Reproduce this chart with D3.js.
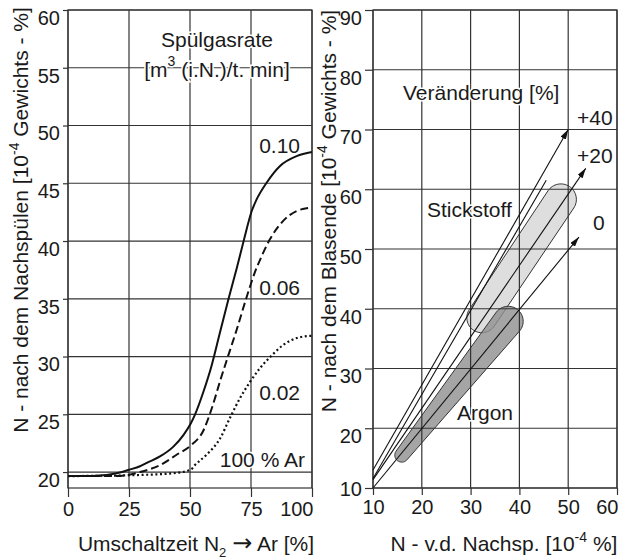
<!DOCTYPE html>
<html>
<head>
<meta charset="utf-8">
<script src="https://cdn.jsdelivr.net/npm/d3@7"></script>
<style>
  body { margin: 0; background: #fff; }
  text { font-family: "Liberation Sans", Arial, sans-serif; fill: #1a1a1a; }
</style>
</head>
<body>
<div id="content"></div>
<script>
var Width = 628;
var Height = 559;

// linkes Diagramm: Stickstoff nach dem Nachspülen
var leftXTicks = [0, 25, 50, 75, 100];
var leftYTicks = [20, 25, 30, 35, 40, 45, 50, 55, 60];
var rate010 = [[0, 19.65], [10, 19.65], [20, 19.9], [25, 20.2], [29.5, 20.5], [32.3, 20.8], [37.7, 21.35],
  [43.2, 22.2], [47.3, 23.2], [50.3, 24.2], [52, 24.95], [55.5, 26.95], [58.9, 29.25], [62.3, 32.1],
  [65.8, 35], [69.1, 37.6], [72.1, 40.1], [75.3, 42.6], [77.3, 43.6], [81.4, 45.05], [86.9, 46.5],
  [93.7, 47.35], [100, 47.7]];
var rate006 = [[0, 19.65], [20, 19.65], [29.5, 20.0], [37.7, 20.6], [44.5, 21.5], [50.3, 22.3],
  [55.5, 23.6], [58.9, 25.5], [62.5, 28.0], [65.7, 30.1], [69.1, 32.3], [73, 35], [76.6, 37.3],
  [79.4, 38.7], [82.8, 40.17], [88.2, 41.75], [93.7, 42.6], [100, 42.9]];
var rate002 = [[0, 19.65], [29.5, 19.75], [43.2, 19.9], [50.3, 20.2], [52, 20.6], [56.8, 21.5],
  [62.3, 22.9], [66.4, 24.7], [70.5, 26.4], [74.6, 27.8], [78.7, 29.0], [83.5, 30.1], [88.2, 31.0],
  [93.7, 31.6], [100, 31.8]];
var rateNames = ["0.10", "0.06", "0.02"];

// rechtes Diagramm: Stickstoff nach dem Blasende
var rightXTicks = [10, 20, 30, 40, 50, 60];
var rightYTicks = [10, 20, 30, 40, 50, 60, 70, 80, 90];
var changeNames = ["+40", "+20", "0"];
var changeStart = [[10, 13], [10, 11.4], [10, 10]];
var changeEnd = [[50, 70], [53.6, 63.5], [52.2, 52]];
var extraLine = [[10, 11.6], [45.5, 61.5]];
var stickstoffBand = [[32.3, 38.5], [48.5, 58.3]];
var argonBand = [[15.9, 15.5], [37.7, 37.9]];

var svg = d3
  .select("#content")
  .append("svg")
  .attr("width", Width)
  .attr("height", Height);

var defs = svg.append("defs");
defs.append("marker")
  .attr("id", "arrow")
  .attr("viewBox", "0 0 10 6")
  .attr("refX", 10)
  .attr("refY", 3)
  .attr("markerWidth", 10)
  .attr("markerHeight", 6)
  .attr("markerUnits", "userSpaceOnUse")
  .attr("orient", "auto")
  .append("path")
  .attr("d", "M0,0 L10,3 L0,6 Z")
  .attr("fill", "#111");

var lx = d3.scaleLinear().domain([0, 100]).range([68, 312]);
var ly = d3.scaleLinear().domain([18.62, 60]).range([488, 10]);
var rx = d3.scaleLinear().domain([10, 60]).range([373, 617]);
var ry = d3.scaleLinear().domain([10, 90]).range([488, 10]);

var gridColor = "#333";

function drawAxes(xs, ys, xt, yt, xTick, yTick) {
  var x0 = xs.range()[0], x1 = xs.range()[1];
  var y0 = ys.range()[0], y1 = ys.range()[1];
  // Gitter
  svg.append("g").selectAll("line").data(xt).enter().append("line")
    .attr("x1", d => xs(d)).attr("x2", d => xs(d))
    .attr("y1", y1).attr("y2", y0)
    .attr("stroke", gridColor).attr("stroke-width", 1.2);
  svg.append("g").selectAll("line").data(yt).enter().append("line")
    .attr("x1", x0).attr("x2", x1)
    .attr("y1", d => ys(d)).attr("y2", d => ys(d))
    .attr("stroke", gridColor).attr("stroke-width", 1.2);
  svg.append("rect")
    .attr("x", x0).attr("y", y1)
    .attr("width", x1 - x0).attr("height", y0 - y1)
    .attr("fill", "none").attr("stroke", gridColor).attr("stroke-width", 1.2);

  var xAxis = d3.axisBottom(xs).tickValues(xt).tickSize(xTick).tickPadding(5);
  var gx = svg.append("g").attr("transform", "translate(0," + y0 + ")").call(xAxis);
  var yAxis = d3.axisLeft(ys).tickValues(yt).tickSize(yTick).tickPadding(3);
  var gy = svg.append("g").attr("transform", "translate(" + x0 + ",0)").call(yAxis);
  [gx, gy].forEach(function (g) {
    g.select(".domain").remove();
    g.attr("font-size", 20).attr("font-family", null);
    g.selectAll("line").attr("stroke", gridColor).attr("stroke-width", 1.2);
    g.selectAll("text").attr("fill", "#111");
  });
  gy.selectAll("text").attr("dy", "0.72em");
  // letzte Beschriftung rechtsbündig am Rand
  var last = xt[xt.length - 1];
  gx.selectAll("text").filter(d => d === last).attr("text-anchor", "end").attr("x", 1);
  return gy;
}

drawAxes(lx, ly, leftXTicks, leftYTicks, 9, 5);
var gyR = drawAxes(rx, ry, rightXTicks, rightYTicks, 7, 8);
gyR.selectAll("text").filter(d => d === 10).attr("dy", "0.35em");

// Kurven links
var line = d3.line()
  .x(d => lx(d[0]))
  .y(d => ly(d[1]))
  .curve(d3.curveMonotoneX);

var curves = [rate010, rate006, rate002];
var dashes = [null, "8,4", "2,2.6"];
svg.append("g").selectAll("path").data(curves).enter().append("path")
  .attr("d", line)
  .attr("fill", "none")
  .attr("stroke", "#111")
  .attr("stroke-width", (d, i) => (i === 2 ? 2.2 : 2))
  .attr("stroke-dasharray", (d, i) => dashes[i]);

function label(x, y, txt, anchor) {
  return svg.append("text")
    .attr("x", x).attr("y", y)
    .attr("font-size", 21)
    .attr("text-anchor", anchor || "start")
    .attr("stroke", "#fff").attr("stroke-width", 3)
    .attr("paint-order", "stroke")
    .text(txt);
}

// Beschriftung links
label(217, 47, "Spülgasrate", "middle");
var unit = svg.append("text")
  .attr("x", 217).attr("y", 77)
  .attr("font-size", 21)
  .attr("text-anchor", "middle")
  .attr("stroke", "#fff").attr("stroke-width", 3)
  .attr("paint-order", "stroke");
unit.append("tspan").text("[m");
unit.append("tspan").attr("dy", -11).attr("font-size", 14).text("3");
unit.append("tspan").attr("dy", 11).text(" (i.N.)/t. min]");

var rateLabelY = [153, 295, 400];
rateNames.forEach(function (n, i) {
  label(300, rateLabelY[i], n, "end");
});
label(305, 467, "100 % Ar", "end");

// Bänder rechts
function band(ends, r1, r2) {
  var pts = [];
  [[ends[0], r1], [ends[1], r2]].forEach(function (e) {
    var cx = rx(e[0][0]), cy = ry(e[0][1]);
    for (var k = 0; k < 64; k++) {
      var a = (k / 64) * Math.PI * 2;
      pts.push([cx + e[1] * Math.cos(a), cy + e[1] * Math.sin(a)]);
    }
  });
  var hull = d3.polygonHull(pts);
  return "M" + hull.join("L") + "Z";
}

var bands = svg.append("g").lower();
svg.select("defs").lower();
bands.append("path")
  .attr("d", band(stickstoffBand, 15, 15.5))
  .attr("fill", "#dedede")
  .attr("stroke", "#333").attr("stroke-width", 1);
bands.append("path")
  .attr("d", band(argonBand, 7, 15))
  .attr("fill", "#8f8f8f").attr("fill-opacity", 0.8)
  .attr("stroke", "#333").attr("stroke-width", 1);

// Veränderungslinien
svg.append("g").selectAll("line").data(changeNames).enter().append("line")
  .attr("x1", (d, i) => rx(changeStart[i][0]))
  .attr("y1", (d, i) => ry(changeStart[i][1]))
  .attr("x2", (d, i) => rx(changeEnd[i][0]))
  .attr("y2", (d, i) => ry(changeEnd[i][1]))
  .attr("stroke", "#111").attr("stroke-width", 1.1)
  .attr("marker-end", "url(#arrow)");
svg.append("line")
  .attr("x1", rx(extraLine[0][0])).attr("y1", ry(extraLine[0][1]))
  .attr("x2", rx(extraLine[1][0])).attr("y2", ry(extraLine[1][1]))
  .attr("stroke", "#111").attr("stroke-width", 1.1);

label(403, 100, "Veränderung [%]");
var changeLabelPos = [[577, 125], [577, 163], [593, 230]];
changeNames.forEach(function (n, i) {
  label(changeLabelPos[i][0], changeLabelPos[i][1], n);
});
label(427, 217, "Stickstoff");
label(457, 420, "Argon");

// Achsentitel
var xt1 = svg.append("text").attr("x", 196).attr("y", 551)
  .attr("font-size", 21).attr("text-anchor", "middle");
xt1.append("tspan").text("Umschaltzeit N");
xt1.append("tspan").attr("dy", 6).attr("font-size", 13).text("2");
xt1.append("tspan").attr("dy", -6).text(" ");
xt1.append("tspan").style("font-family", "DejaVu Sans").attr("font-size", 24).text("\u2192");
xt1.append("tspan").text(" Ar [%]");

var xt2 = svg.append("text").attr("x", 504).attr("y", 551)
  .attr("font-size", 21).attr("text-anchor", "middle");
xt2.append("tspan").text("N - v.d. Nachsp. [10");
xt2.append("tspan").attr("dy", -9).attr("font-size", 14).text("-4");
xt2.append("tspan").attr("dy", 9).text(" %]");

function yTitle(x, y, first) {
  var t = svg.append("text")
    .attr("transform", "translate(" + x + "," + y + ") rotate(-90)")
    .attr("font-size", 21).attr("text-anchor", "middle");
  t.append("tspan").text(first + " [10");
  t.append("tspan").attr("dy", -9).attr("font-size", 14).text("-4");
  t.append("tspan").attr("dy", 9).text(" Gewichts - %]");
}
yTitle(28, 220, "N - nach dem Nachspülen");
yTitle(336, 211, "N - nach dem Blasende");
</script>
</body>
</html>
